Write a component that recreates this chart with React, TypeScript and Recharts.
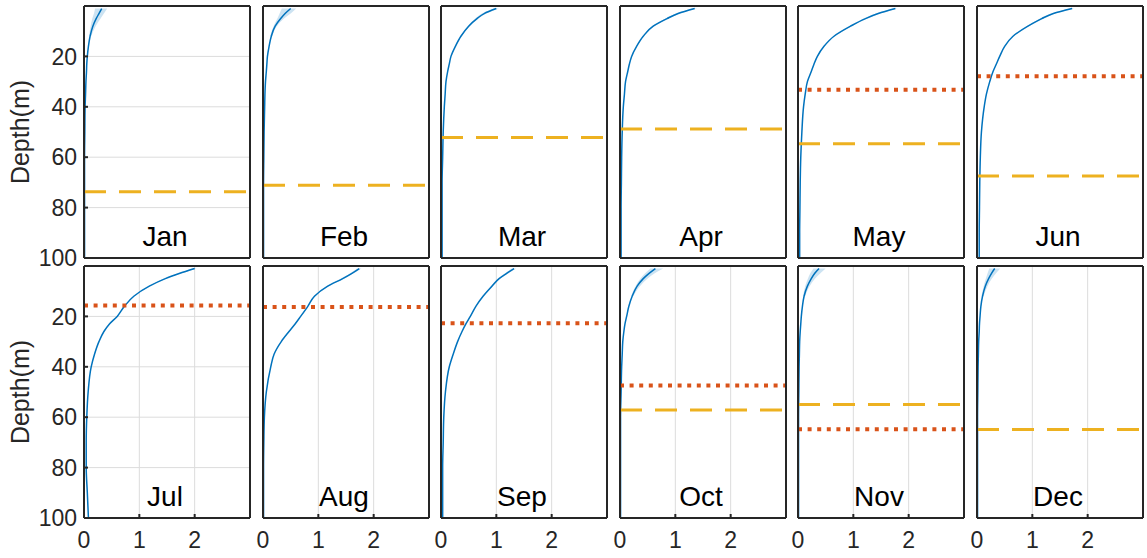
import React from 'react'
import { ComposedChart, Line, Area, XAxis, YAxis, CartesianGrid, ReferenceLine } from 'recharts'

const months = ['Jan', 'Feb', 'Mar', 'Apr', 'May', 'Jun', 'Jul', 'Aug', 'Sep', 'Oct', 'Nov', 'Dec']
const depths = [1, 3, 5, 8, 12, 16, 20, 23, 26, 30, 35, 40, 50, 60, 70, 80, 90, 100]

// mean profile per month, one value per depth
const jan = [0.32, 0.27, 0.22, 0.16, 0.11, 0.08, 0.06, 0.05, 0.045, 0.035, 0.028, 0.02, 0.015, 0.01, 0.01, 0.01, 0.01, 0.01]
const feb = [0.5, 0.4, 0.32, 0.22, 0.15, 0.11, 0.08, 0.07, 0.06, 0.045, 0.035, 0.03, 0.02, 0.015, 0.01, 0.01, 0.01, 0.01]
const mar = [1.0, 0.78, 0.65, 0.5, 0.36, 0.26, 0.18, 0.15, 0.12, 0.09, 0.075, 0.06, 0.04, 0.03, 0.02, 0.02, 0.02, 0.02]
const apr = [1.35, 1.05, 0.85, 0.6, 0.42, 0.3, 0.21, 0.17, 0.14, 0.1, 0.08, 0.06, 0.04, 0.03, 0.025, 0.02, 0.02, 0.02]
const may = [1.76, 1.45, 1.22, 0.95, 0.65, 0.47, 0.35, 0.29, 0.24, 0.17, 0.13, 0.1, 0.07, 0.05, 0.04, 0.035, 0.03, 0.03]
const jun = [1.72, 1.38, 1.17, 0.92, 0.65, 0.5, 0.41, 0.35, 0.29, 0.23, 0.17, 0.13, 0.08, 0.06, 0.05, 0.045, 0.04, 0.04]
const jul = [2.0, 1.72, 1.47, 1.18, 0.9, 0.73, 0.6, 0.46, 0.36, 0.27, 0.19, 0.13, 0.075, 0.05, 0.04, 0.04, 0.06, 0.08]
const aug = [1.74, 1.6, 1.44, 1.17, 0.93, 0.81, 0.68, 0.58, 0.47, 0.33, 0.2, 0.14, 0.06, 0.025, 0.015, 0.01, 0.01, 0.01]
const sep = [1.32, 1.18, 1.05, 0.92, 0.76, 0.63, 0.53, 0.45, 0.38, 0.3, 0.22, 0.15, 0.08, 0.05, 0.04, 0.03, 0.03, 0.03]
const oct = [0.64, 0.52, 0.42, 0.31, 0.22, 0.16, 0.12, 0.09, 0.07, 0.05, 0.04, 0.03, 0.02, 0.01, 0.01, 0.01, 0.01, 0.01]
const nov = [0.38, 0.3, 0.24, 0.17, 0.11, 0.08, 0.06, 0.05, 0.04, 0.03, 0.025, 0.02, 0.015, 0.01, 0.01, 0.01, 0.01, 0.01]
const dec = [0.32, 0.26, 0.21, 0.15, 0.1, 0.07, 0.055, 0.045, 0.04, 0.03, 0.025, 0.02, 0.015, 0.01, 0.01, 0.01, 0.01, 0.01]

// spread band, only visible over the top depths (1, 3, 5, 8, 12 m)
const janLo = [0.2, 0.18, 0.15, 0.12, 0.09]
const janHi = [0.42, 0.36, 0.3, 0.21, 0.13]
const febLo = [0.34, 0.3, 0.26, 0.19, 0.13]
const febHi = [0.6, 0.5, 0.38, 0.25, 0.17]
const marLo = [0.95, 0.74, 0.62, 0.48, 0.35]
const marHi = [1.05, 0.82, 0.68, 0.52, 0.37]
const aprLo = [1.3, 1.01, 0.82, 0.58, 0.41]
const aprHi = [1.4, 1.09, 0.88, 0.62, 0.43]
const mayLo = [1.72, 1.41, 1.19, 0.93, 0.64]
const mayHi = [1.8, 1.49, 1.25, 0.97, 0.66]
const junLo = [1.68, 1.34, 1.14, 0.9, 0.64]
const junHi = [1.76, 1.42, 1.2, 0.94, 0.66]
const julLo = [1.96, 1.69, 1.45, 1.17, 0.89]
const julHi = [2.04, 1.75, 1.49, 1.19, 0.91]
const augLo = [1.7, 1.57, 1.41, 1.15, 0.92]
const augHi = [1.78, 1.63, 1.47, 1.19, 0.94]
const sepLo = [1.28, 1.15, 1.03, 0.9, 0.75]
const sepHi = [1.36, 1.21, 1.07, 0.94, 0.77]
const octLo = [0.55, 0.45, 0.37, 0.28, 0.2]
const octHi = [0.78, 0.62, 0.5, 0.36, 0.24]
const novLo = [0.28, 0.22, 0.18, 0.13, 0.09]
const novHi = [0.5, 0.4, 0.31, 0.21, 0.13]
const decLo = [0.22, 0.19, 0.16, 0.12, 0.08]
const decHi = [0.42, 0.34, 0.27, 0.19, 0.12]

// horizontal depth markers (m), null where there is none
const dashedDepth = [73.7, 71.1, 52.2, 48.8, 54.7, 67.5, null, null, null, 57.1, 55.0, 64.9]
const dottedDepth = [null, null, null, null, 33.2, 27.9, 15.7, 16.3, 22.7, 47.4, 64.8, null]

const xTicks = [0, 1, 2]
const yTicks = [20, 40, 60, 80, 100]

const profiles = [jan, feb, mar, apr, may, jun, jul, aug, sep, oct, nov, dec]
const bandsLo = [janLo, febLo, marLo, aprLo, mayLo, junLo, julLo, augLo, sepLo, octLo, novLo, decLo]
const bandsHi = [janHi, febHi, marHi, aprHi, mayHi, junHi, julHi, augHi, sepHi, octHi, novHi, decHi]

const FONT = '"Liberation Sans", Arial, Helvetica, sans-serif'
const AX = '#262626'
const PLOT_W = 166
const PLOT_H = 252
const LEFT0 = 84
const STEP = 178.6
const TOPS = [6, 266]
const AXIS_W = 84
const AXIS_H = 44
const PAD_T = 12
const PAD_R = 8

const Panel = ({ idx }: { idx: number }) => {
  const row = Math.floor(idx / 6)
  const col = idx % 6
  const lo = bandsLo[idx]
  const hi = bandsHi[idx]
  const data = depths.map((d, i) => ({
    depth: d,
    value: profiles[idx][i],
    band: i < lo.length ? [lo[i], hi[i]] : null,
  }))
  const w = AXIS_W + PLOT_W + PAD_R
  const h = PAD_T + PLOT_H + AXIS_H
  const axisLine = { stroke: AX, strokeWidth: 2 }
  const tickStyle = { fontSize: 23, fill: AX, fontFamily: FONT }
  const dashed = dashedDepth[idx]
  const dotted = dottedDepth[idx]

  return (
    <div style={{ position: 'absolute', left: LEFT0 + col * STEP - AXIS_W, top: TOPS[row] - PAD_T, width: w, height: h }}>
      <ComposedChart
        width={w}
        height={h}
        data={data}
        layout="vertical"
        margin={{ top: PAD_T - 1, right: PAD_R - 1, bottom: 0, left: 0 }}
        style={{ fontFamily: FONT }}
      >
        <CartesianGrid stroke="#dcdcdc" strokeWidth={1} />
        <XAxis
          type="number"
          domain={[0, 3]}
          ticks={xTicks}
          interval={0}
          allowDataOverflow
          height={AXIS_H}
          axisLine={axisLine}
          tickLine={axisLine}
          tickSize={-4}
          tickMargin={18}
          tick={row === 1 ? tickStyle : false}
        />
        <XAxis
          xAxisId="top"
          orientation="top"
          type="number"
          domain={[0, 3]}
          ticks={xTicks}
          interval={0}
          allowDataOverflow
          height={1}
          axisLine={axisLine}
          tickLine={axisLine}
          tickSize={-4}
          tick={false}
        />
        <YAxis
          type="number"
          dataKey="depth"
          domain={[0, 100]}
          ticks={yTicks}
          interval={0}
          allowDataOverflow
          width={AXIS_W}
          axisLine={axisLine}
          tickLine={axisLine}
          tickSize={-4}
          tickMargin={11}
          tick={col === 0 ? tickStyle : false}
        />
        <YAxis
          yAxisId="right"
          orientation="right"
          type="number"
          domain={[0, 100]}
          ticks={yTicks}
          interval={0}
          allowDataOverflow
          width={1}
          axisLine={axisLine}
          tickLine={axisLine}
          tickSize={-4}
          tick={false}
        />
        <Area type="monotone" dataKey="band" fill="#0072BD" fillOpacity={0.2} stroke="none" isAnimationActive={false} />
        <Line type="monotone" dataKey="value" stroke="#0072BD" strokeWidth={1.5} dot={false} isAnimationActive={false} />
        {dotted !== null && (
          <ReferenceLine y={dotted} stroke="#D95319" strokeWidth={4} strokeDasharray="4 5.6" />
        )}
        {dashed !== null && (
          <ReferenceLine y={dashed} stroke="#EDB120" strokeWidth={3} strokeDasharray="22 13" />
        )}
      </ComposedChart>
      <svg width={w} height={h} style={{ position: 'absolute', left: 0, top: 0, pointerEvents: 'none' }}>
        <text
          x={AXIS_W + PLOT_W / 2 - 2}
          y={PAD_T + 239.5}
          textAnchor="middle"
          fontSize={28}
          fontFamily={FONT}
          fill="#000"
        >
          {months[idx]}
        </text>
        {col === 0 && (
          <text
            x={28.5}
            y={PAD_T + PLOT_H / 2}
            transform={`rotate(-90 28.5 ${PAD_T + PLOT_H / 2})`}
            textAnchor="middle"
            fontSize={25}
            fontFamily={FONT}
            fill={AX}
          >
            Depth(m)
          </text>
        )}
      </svg>
    </div>
  )
}

const App = () => {
  return (
    <div style={{ position: 'absolute', left: 0, top: 0, width: 1147, height: 558, background: '#fff', overflow: 'hidden' }}>
      {months.map((m, i) => (
        <Panel key={m} idx={i} />
      ))}
    </div>
  )
}

export default App
